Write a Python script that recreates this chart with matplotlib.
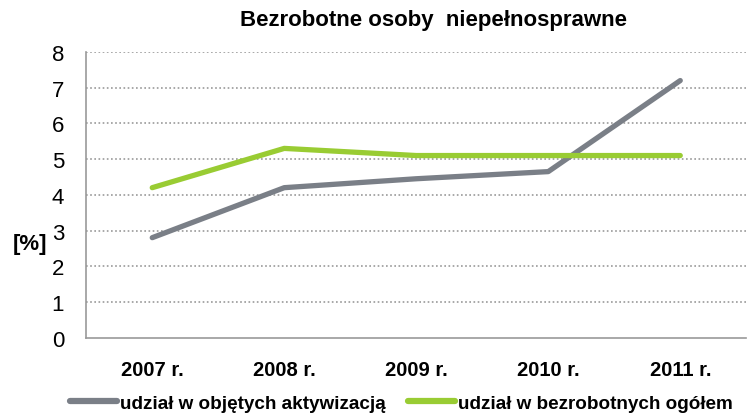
import matplotlib
matplotlib.use("Agg")
import matplotlib.pyplot as plt
from matplotlib.lines import Line2D

# data
years = ["2007 r.", "2008 r.", "2009 r.", "2010 r.", "2011 r."]
aktywizacja = [2.8, 4.2, 4.45, 4.65, 7.2]
bezrobotni = [4.2, 5.3, 5.1, 5.1, 5.1]
series_names = ["udział w objętych aktywizacją", "udział w bezrobotnych ogółem"]
yticks = [0, 1, 2, 3, 4, 5, 6, 7, 8]

GRAY = "#7a7f87"
GREEN = "#99cc33"

plt.rcParams["font.family"] = ["Liberation Sans", "DejaVu Sans"]

fig = plt.figure(figsize=(7.5, 4.14), dpi=100)
ax = fig.add_axes([0.115, 0.182, 0.88, 0.690])

x = list(range(len(years)))
ax.plot(x, aktywizacja, color=GRAY, lw=3.8, solid_capstyle="round", solid_joinstyle="round")
ax.plot(x, bezrobotni, color=GREEN, lw=3.8, solid_capstyle="round", solid_joinstyle="round")

ax.set_xlim(-0.5, len(years) - 0.5)
ax.set_ylim(0, 8)
ax.set_yticks(yticks)
ax.set_yticklabels([str(t) for t in yticks], fontsize=16)
ax.set_xticks(x)
ax.set_xticklabels(years, fontsize=14.5, fontweight="bold")
ax.tick_params(length=0)
ax.tick_params(axis="x", pad=16)
ax.tick_params(axis="y", pad=16)

for t in yticks[1:]:
    ax.axhline(t, color="#999999", lw=1.2, ls=(0, (1, 1.5)), zorder=0)

for side in ["top", "right"]:
    ax.spines[side].set_visible(False)
for side in ["left", "bottom"]:
    ax.spines[side].set_color("#999999")
    ax.spines[side].set_linewidth(1.2)

ax.set_ylabel("[%]", fontsize=16, fontweight="bold", rotation=0, va="center", ha="center")
ax.yaxis.set_label_coords(-0.085, 0.33)

fig.text(0.578, 0.950, "Bezrobotne osoby  niepełnosprawne", ha="center", va="center",
         fontsize=16, fontweight="bold")

handles = [Line2D([], [], color=GRAY, lw=4.5, solid_capstyle="round"),
           Line2D([], [], color=GREEN, lw=4.5, solid_capstyle="round")]
fig.legend(handles, series_names, loc="center", bbox_to_anchor=(0.535, 0.024), ncol=2,
           frameon=False, handlelength=2.5, handletextpad=0.15, columnspacing=1.2,
           borderpad=0.2, prop={"size": 13.6, "weight": "bold"})

fig.savefig("out.png", dpi=100)
